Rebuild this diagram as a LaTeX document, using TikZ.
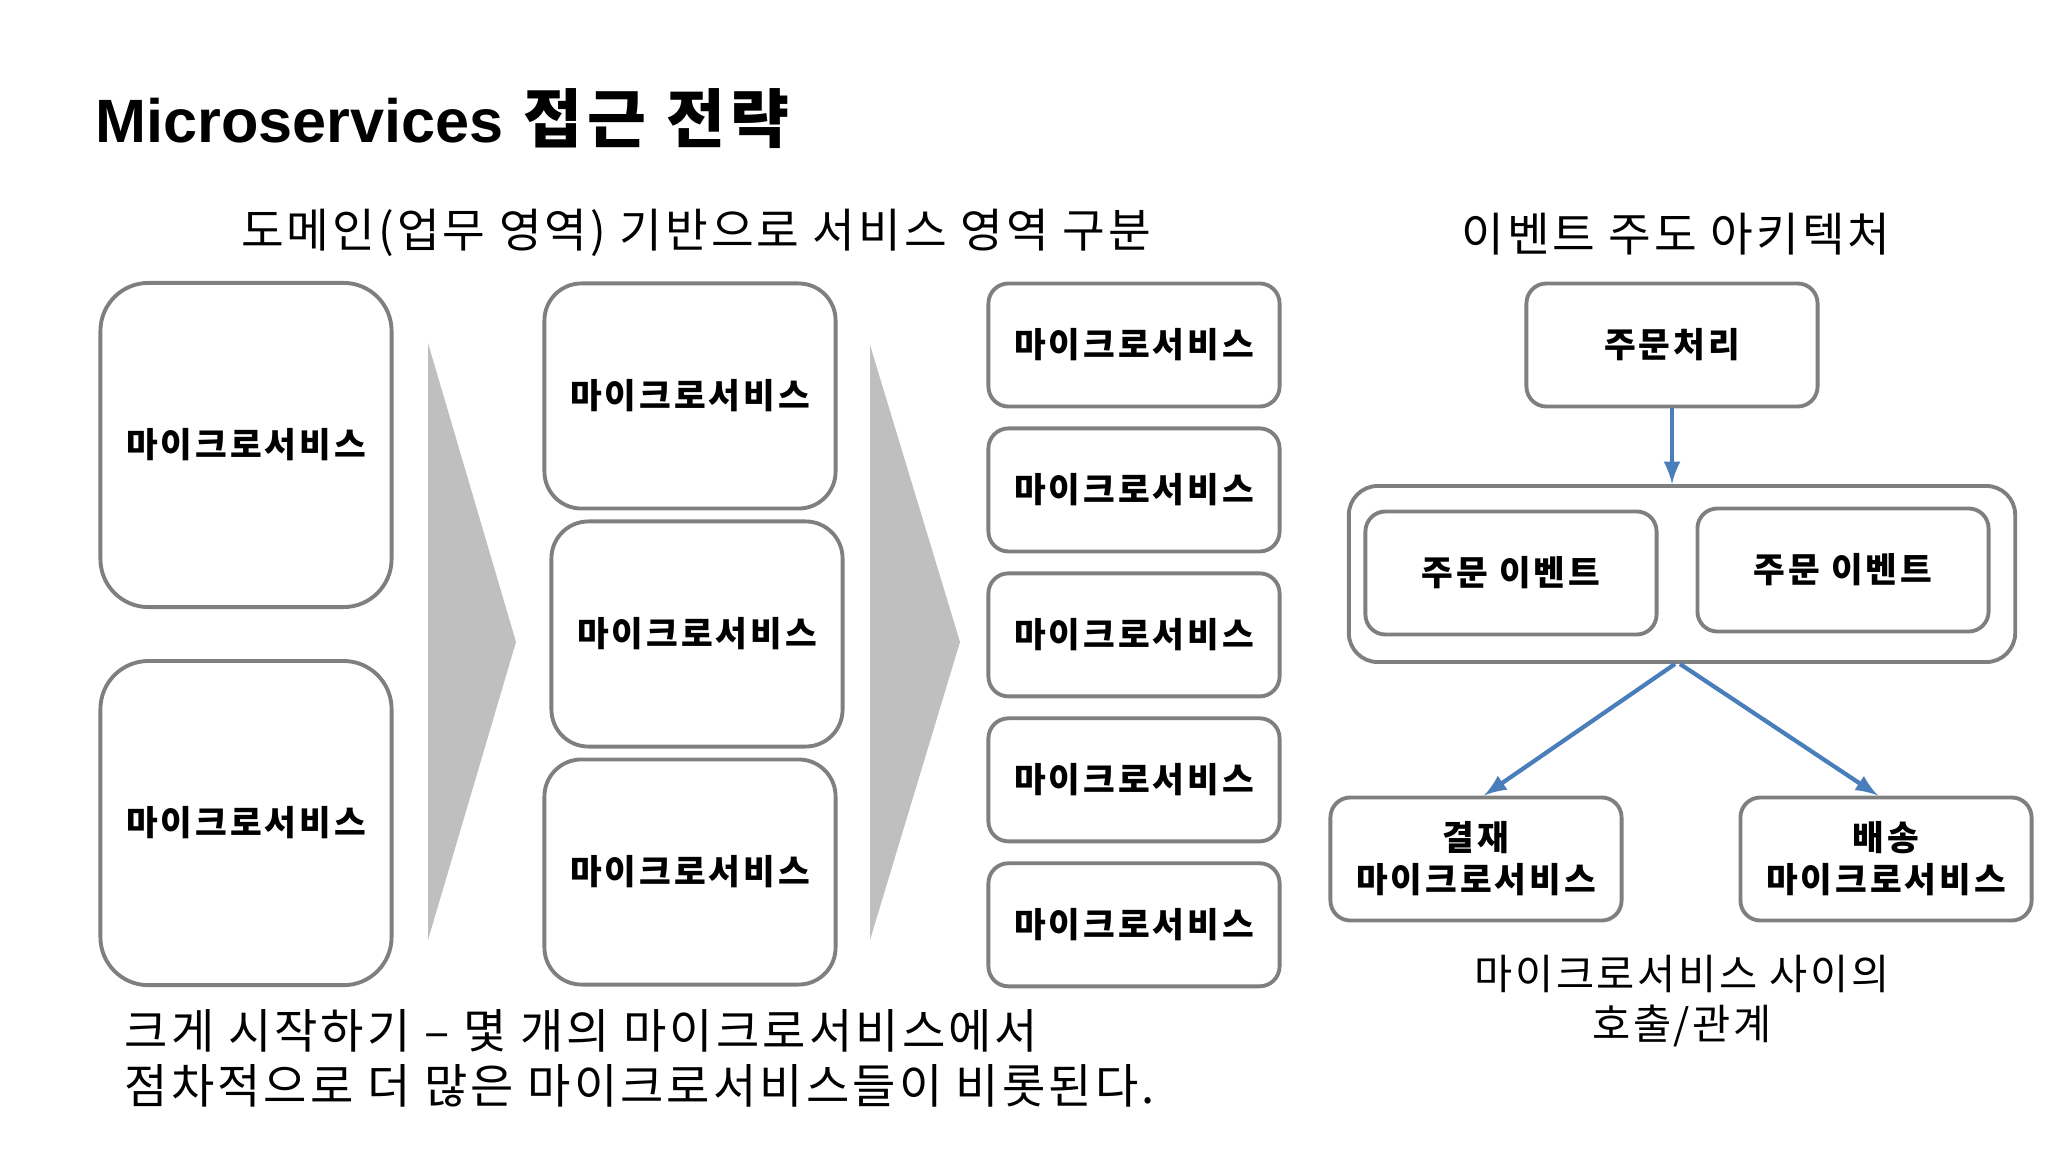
\documentclass[tikz,border=0pt]{standalone}
\usepackage{fontspec}
\setmainfont{Noto Sans CJK KR}[LetterSpace=6.5,BoldFeatures={LetterSpace=8.5}]
\newfontfamily\titlelatin{Liberation Sans}
\usepackage{tikz}
\usetikzlibrary{arrows,positioning}
\definecolor{boxline}{RGB}{127,127,127}
\definecolor{chev}{RGB}{191,191,191}
\definecolor{evblue}{RGB}{74,126,187}
\tikzstyle{ms}=[rectangle, draw=boxline, line width=1.1pt, fill=white, align=center, font=\bfseries\fontsize{9.8}{12}\selectfont]
\tikzstyle{bigms}=[ms, minimum width=2.91cm, minimum height=3.24cm, rounded corners=0.48cm]
\tikzstyle{midms}=[ms, minimum width=2.91cm, minimum height=2.25cm, rounded corners=0.37cm]
\tikzstyle{smallms}=[ms, minimum width=2.91cm, minimum height=1.23cm, rounded corners=0.2cm]
\tikzstyle{chevron}=[fill=chev]
\tikzstyle{flow}=[->, >=latex, draw=evblue, line width=1.2pt]
\tikzstyle{plain}=[font=\fontsize{13.2}{15.6}\selectfont]

\begin{document}
\begin{tikzpicture}[x=0.01cm,y=-0.01cm]
	\useasboundingbox (0,0) rectangle (2048,1152);
	\node[anchor=base west,inner sep=0,font=\fontsize{17.4}{20}\selectfont\bfseries](title) at (95,143) {{\titlelatin Microservices} {\fontsize{18.2}{20}\selectfont 접근 전략}};
	\node[plain](domain) at (696,233) {도메인(업무 영역) 기반으로 서비스 영역 구분};
	\node[plain](eda) at (1676,234) {이벤트 주도 아키텍처};
	
	% big -> medium -> small
	\node[bigms](a1) at (246,445) {마이크로서비스};
	\node[bigms](a2)[below=0.5cm of a1] {마이크로서비스};
	\fill[chevron] (428,343) -- (516,642) -- (428,940) -- cycle;
	
	\node[midms](b1) at (690,396) {마이크로서비스};
	\node[midms](b2) at (697,634) {마이크로서비스};
	\node[midms](b3) at (690,872) {마이크로서비스};
	\fill[chevron] (870,345) -- (960,642) -- (870,940) -- cycle;
	
	\node[smallms](c1) at (1134,345) {마이크로서비스};
	\node[smallms](c2)[below=0.18cm of c1] {마이크로서비스};
	\node[smallms](c3)[below=0.18cm of c2] {마이크로서비스};
	\node[smallms](c4)[below=0.18cm of c3] {마이크로서비스};
	\node[smallms](c5)[below=0.18cm of c4] {마이크로서비스};
	
	\node[plain,font=\fontsize{13.4}{15.6}\selectfont,anchor=west,align=left,inner sep=0](growth) at (124,1058) {크게 시작하기 – 몇 개의 마이크로서비스에서\\점차적으로 더 많은 마이크로서비스들이 비롯된다.};
	
	% event driven
	\node[smallms](order) at (1672,345) {주문처리};
	\node[rectangle,draw=boxline,line width=1.1pt,rounded corners=0.29cm,minimum width=6.66cm,minimum height=1.76cm](bus) at (1682,574) {};
	\node[smallms](ev1) at (1511,573) {주문 이벤트};
	\node[smallms](ev2) at (1843,570) {주문 이벤트};
	\node[smallms](pay) at (1476,859) {결재\\마이크로서비스};
	\node[smallms](ship) at (1886,859) {배송\\마이크로서비스};
	\draw[flow](order.south) -- (order.south |- bus.north);
	\draw[flow]([xshift=-0.07cm]bus.south) -- ([xshift=0.08cm]pay.north);
	\draw[flow]([xshift=-0.02cm]bus.south) -- ([xshift=-0.08cm]ship.north);
	
	\node[align=center,font=\fontsize{11.8}{14.2}\selectfont](callnote) at (1682,1001) {마이크로서비스 사이의\\호출/관계};
\end{tikzpicture}
\end{document}
